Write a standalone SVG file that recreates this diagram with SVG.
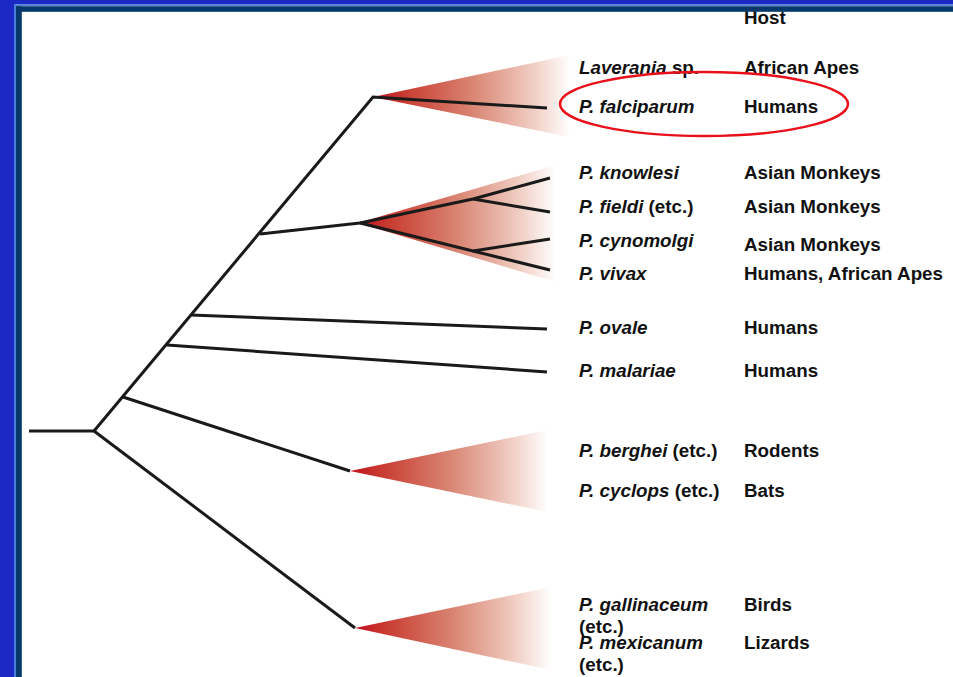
<svg xmlns="http://www.w3.org/2000/svg" width="953" height="677" viewBox="0 0 953 677">
<defs>
<linearGradient id="wg" x1="0" y1="0" x2="1" y2="0">
<stop offset="0" stop-color="#c20f1e"/>
<stop offset="0.15" stop-color="#c83a30"/>
<stop offset="0.5" stop-color="#d98472"/>
<stop offset="0.8" stop-color="#efcabf"/>
<stop offset="1" stop-color="#ffffff"/>
</linearGradient>
<style>
.br{fill:none;stroke:#1a1a1a;stroke-width:3;stroke-linecap:butt;stroke-linejoin:miter}
.wedge{fill:url(#wg);stroke:none}
text{font-family:"Liberation Sans",Arial,Helvetica,sans-serif;font-size:18.8px;font-weight:bold;fill:#111}
.sp{font-style:italic}
.up{font-style:normal}
</style>
</defs>
<rect x="0" y="0" width="953" height="677" fill="#ffffff"/>
<g id="wedges">
<polygon class="wedge" points="373,97 570,55 570,137"/>
<polygon class="wedge" points="358,223 556,165 556,282"/>
<polygon class="wedge" points="350,471 548,430 548,512"/>
<polygon class="wedge" points="355,628 551,587 551,670"/>
</g>
<g id="connectors">
<polyline class="br" points="29,431 94,431"/>
<polyline class="br" points="94,431 373,97 547,108"/>
<polyline class="br" points="94,431 355,628"/>
<polyline class="br" points="123,397 350,471"/>
<polyline class="br" points="167,345 547,372"/>
<polyline class="br" points="191,315 547,329"/>
<polyline class="br" points="260,234 360,223"/>
<polyline class="br" points="360,223 473,199 550,178"/>
<polyline class="br" points="473,199 550,212"/>
<polyline class="br" points="360,223 473,251 550,270"/>
<polyline class="br" points="473,251 550,239"/>
</g>
<g id="header"><text x="744" y="24">Host</text></g>
<g id="laverania"><text x="579" y="74"><tspan class="sp">Laverania</tspan> sp.</text><text x="744" y="74">African Apes</text></g>
<g id="falciparum"><text x="579" y="113" class="sp">P. falciparum</text><text x="744" y="113">Humans</text>
<ellipse cx="704" cy="104" rx="144" ry="32" fill="none" stroke="#e8101a" stroke-width="2.5"/></g>
<g id="knowlesi"><text x="579" y="179" class="sp">P. knowlesi</text><text x="744" y="179">Asian Monkeys</text></g>
<g id="fieldi"><text x="579" y="213"><tspan class="sp">P. fieldi</tspan> (etc.)</text><text x="744" y="213">Asian Monkeys</text></g>
<g id="cynomolgi"><text x="579" y="247" class="sp">P. cynomolgi</text><text x="744" y="251">Asian Monkeys</text></g>
<g id="vivax"><text x="579" y="280" class="sp">P. vivax</text><text x="744" y="280">Humans, African Apes</text></g>
<g id="ovale"><text x="579" y="334" class="sp">P. ovale</text><text x="744" y="334">Humans</text></g>
<g id="malariae"><text x="579" y="377" class="sp">P. malariae</text><text x="744" y="377">Humans</text></g>
<g id="berghei"><text x="579" y="457"><tspan class="sp">P. berghei</tspan> (etc.)</text><text x="744" y="457">Rodents</text></g>
<g id="cyclops"><text x="579" y="497"><tspan class="sp">P. cyclops</tspan> (etc.)</text><text x="744" y="497">Bats</text></g>
<g id="gallinaceum"><text x="579" y="611" class="sp">P. gallinaceum</text><text x="579" y="633">(etc.)</text><text x="744" y="611">Birds</text></g>
<g id="mexicanum"><text x="579" y="649" class="sp">P. mexicanum</text><text x="579" y="671">(etc.)</text><text x="744" y="649">Lizards</text></g>
<g id="frame">
<rect x="0" y="0" width="953" height="4.5" fill="#1a28c4"/>
<rect x="0" y="0" width="14" height="677" fill="#1a28c4"/>
<rect x="14" y="4.5" width="939" height="1.8" fill="#4a7fd8"/>
<rect x="14" y="4.5" width="2" height="672.5" fill="#4a7fd8"/>
<rect x="16" y="6.3" width="937" height="5.5" fill="#06386c"/>
<rect x="16" y="6.3" width="5.8" height="670.7" fill="#06386c"/>
</g>
</svg>
